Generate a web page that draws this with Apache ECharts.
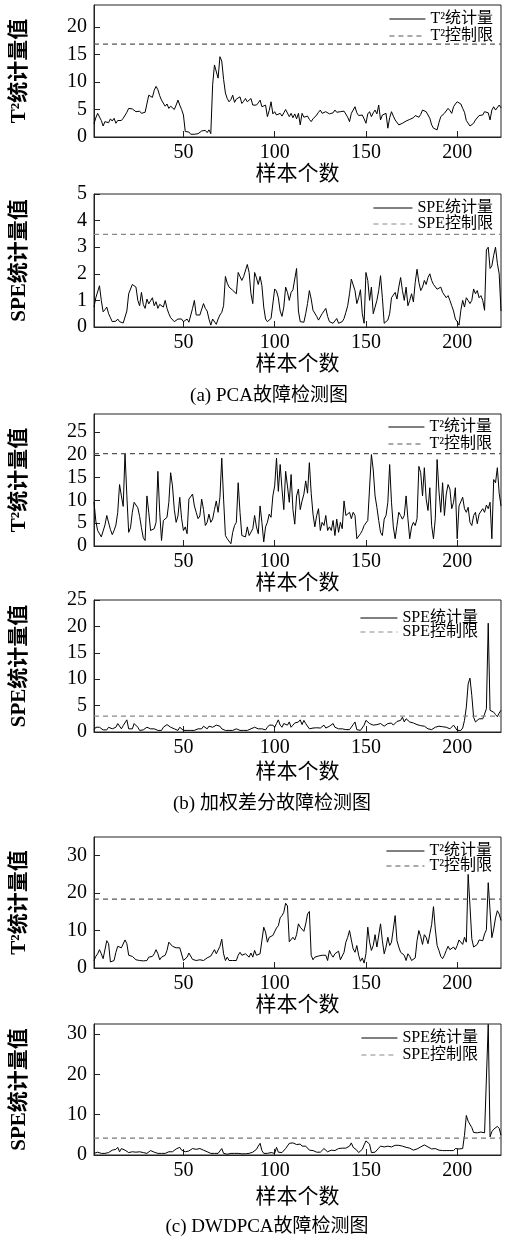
<!DOCTYPE html>
<html>
<head>
<meta charset="utf-8">
<script src="https://cdn.jsdelivr.net/npm/echarts@6/dist/echarts.min.js"></script>
<style>
html, body { margin: 0; padding: 0; background: #fff; }
#main { width: 514px; height: 1241px; }
</style>
</head>
<body>
<div id="main"></div>
<script>
// 样本统计量数据（按样本序号 1..224）
var t2PCA = [
  2.4, 3.5, 4.3, 4.0, 3.0, 2.0, 2.8, 3.1, 2.6, 3.3,
  2.9, 3.4, 2.5, 3.0, 2.7, 3.0, 3.4, 3.7, 4.5, 5.2,
  5.0, 5.1, 4.8, 4.6, 4.9, 4.7, 4.3, 4.0, 4.5, 4.2,
  7.6, 7.9, 7.2, 8.5, 9.2, 8.6, 7.5, 6.7, 6.4, 5.6,
  6.0, 5.2, 5.6, 5.4, 5.0, 5.8, 6.7, 5.8, 5.0, 4.0,
  1.0, 0.7, 0.9, 0.5, 0.6, 0.5, 0.7, 0.6, 0.8, 1.1,
  0.9, 1.2, 0.8, 1.3, 0.6, 9.5, 13.1, 12.8, 10.7, 14.6,
  13.8, 10.5, 8.0, 7.0, 6.4, 6.8, 7.6, 6.3, 6.9, 6.6,
  7.3, 6.1, 6.5, 7.0, 6.4, 6.7, 7.0, 5.8, 5.5, 5.8,
  6.2, 6.7, 5.5, 5.6, 5.8, 3.7, 4.8, 6.4, 4.2, 4.6,
  4.0, 3.9, 4.3, 3.8, 4.4, 5.0, 4.8, 3.7, 4.3, 3.5,
  4.2, 3.3, 4.3, 2.2, 4.3, 3.6, 3.4, 3.8, 3.2, 2.8,
  3.3, 3.4, 4.0, 4.5, 4.9, 4.3, 4.0, 4.6, 4.9, 4.2,
  4.0, 4.4, 4.9, 4.5, 4.2, 4.6, 4.3, 4.7, 4.9, 3.6,
  2.8, 4.3, 4.0, 5.5, 4.4, 3.9, 4.2, 4.0, 3.3, 2.5,
  4.2, 4.6, 3.7, 4.4, 4.9, 4.2, 5.8, 3.1, 4.0, 3.9,
  4.3, 1.6, 3.5, 4.6, 3.8, 3.1, 2.8, 2.2, 2.5, 2.5,
  2.8, 2.9, 3.1, 3.2, 3.3, 3.5, 3.9, 3.8, 3.6, 4.1,
  4.9, 5.2, 4.6, 4.0, 3.4, 2.2, 1.6, 1.5, 1.3, 2.6,
  3.7, 4.0, 4.3, 4.6, 5.2, 4.8, 4.3, 5.5, 6.0, 6.4,
  6.2, 6.0, 5.2, 4.5, 3.0, 2.7, 2.0, 1.9, 2.5, 3.1,
  3.3, 3.9, 4.2, 4.0, 4.6, 4.8, 4.4, 3.1, 4.9, 5.5,
  4.9, 5.2, 5.8, 5.3
];
var spePCA = [
  0.75, 1.1, 1.15, 1.55, 1.0, 0.57, 0.65, 0.75, 0.5, 0.35,
  0.2, 0.2, 0.22, 0.3, 0.2, 0.18, 0.15, 0.16, 0.6, 1.25,
  1.3, 1.6, 1.65, 1.5, 1.0, 0.8, 1.3, 0.85, 0.7, 1.05,
  0.87, 0.87, 1.1, 0.8, 0.95, 0.7, 0.85, 0.87, 0.75, 1.0,
  0.7, 0.5, 0.35, 0.3, 0.2, 0.2, 0.3, 0.25, 0.3, 0.2,
  0.25, 0.3, 0.18, 0.14, 0.7, 1.0, 0.45, 0.42, 0.45, 0.52,
  0.88, 0.7, 0.6, 0.3, 0.07, 0.3, 0.25, 0.1, 0.3, 0.45,
  0.55, 0.8, 1.9, 1.65, 1.5, 1.55, 1.38, 1.45, 1.25, 2.05,
  1.9, 1.75, 1.9, 1.9, 2.35, 2.05, 1.25, 0.88, 2.05, 1.85,
  1.6, 1.9, 1.55, 0.75, 0.3, 0.2, 0.14, 0.32, 0.38, 1.43,
  1.35, 1.1, 0.6, 0.4, 0.75, 1.5, 1.3, 1.0, 1.3, 1.4,
  1.4, 2.2, 0.6, 0.2, 0.14, 0.18, 0.5, 0.88, 1.37, 1.05,
  0.63, 0.57, 0.4, 0.26, 0.32, 0.5, 0.55, 0.7, 0.4, 0.2,
  0.26, 0.14, 0.2, 0.32, 0.14, 0.14, 0.2, 0.32, 0.55, 0.8,
  1.25, 1.8, 1.75, 1.37, 0.88, 1.1, 1.4, 0.5, 0.14, 2.05,
  1.75, 1.0, 1.5, 0.5, 0.75, 1.0, 1.37, 1.93, 1.1, 0.14,
  0.07, 0.26, 0.5, 1.1, 1.2, 1.3, 1.05, 1.5, 1.86, 1.37,
  1.0, 1.5, 0.8, 1.0, 1.25, 0.94, 1.68, 2.17, 1.68, 1.37,
  1.5, 1.75, 1.6, 1.86, 2.0, 1.75, 1.6, 1.55, 1.42, 1.42,
  1.5, 1.3, 1.37, 1.1, 1.18, 1.0, 0.8, 0.6, 0.3, 0.2,
  0.07, 0.63, 1.0, 0.75, 1.1, 1.0, 0.88, 1.0, 1.43, 1.25,
  1.37, 1.1, 1.18, 1.0, 0.63, 2.9, 3.0, 2.2, 2.3, 2.7,
  3.0, 2.4, 2.0, 0.6
];
var t2WD = [
  9.7, 5.5, 3.4, 3.0, 2.0, 2.3, 4.6, 6.7, 6.4, 3.6,
  2.5, 3.4, 4.6, 7.4, 13.5, 11.0, 8.7, 20.4, 11.0, 3.0,
  4.0, 7.4, 9.6, 9.3, 8.4, 6.5, 4.0, 1.8, 1.2, 11.0,
  7.4, 3.4, 3.0, 3.8, 5.2, 16.4, 7.4, 1.2, 5.6, 6.0,
  6.3, 9.6, 16.1, 13.2, 8.0, 5.2, 6.6, 10.7, 6.0, 3.4,
  4.2, 2.7, 10.3, 10.0, 11.4, 8.8, 7.4, 6.0, 6.6, 10.3,
  8.0, 4.5, 5.2, 7.0, 5.2, 5.9, 8.0, 9.9, 7.4, 10.7,
  19.3, 10.3, 2.3, 1.6, 1.5, 0.5, 3.0, 4.5, 5.2, 13.9,
  7.4, 2.3, 2.7, 2.0, 4.2, 2.3, 2.0, 3.8, 6.7, 4.2,
  2.7, 8.8, 5.2, 0.9, 4.2, 5.2, 7.0, 6.3, 11.0, 13.2,
  19.3, 12.0, 17.9, 12.5, 8.0, 16.4, 13.2, 9.6, 15.7, 8.0,
  4.8, 11.0, 12.5, 8.0, 9.9, 11.4, 14.3, 11.6, 18.3, 11.6,
  7.0, 4.2, 6.7, 8.2, 3.4, 5.2, 4.5, 6.7, 3.4, 4.2,
  3.4, 5.6, 2.3, 5.9, 3.0, 5.2, 3.8, 9.9, 6.7, 7.0,
  7.4, 6.0, 7.4, 6.7, 1.6, 2.0, 2.7, 3.4, 4.5, 4.8,
  5.6, 5.9, 20.1, 16.7, 11.0, 8.5, 5.6, 3.0, 2.3, 5.9,
  6.7, 9.6, 17.9, 9.6, 4.2, 1.6, 4.5, 7.4, 6.7, 5.9,
  6.7, 11.0, 6.0, 1.6, 4.2, 5.2, 4.5, 6.0, 17.5, 16.1,
  11.0, 17.2, 10.3, 7.8, 12.8, 4.5, 1.6, 6.0, 19.0, 12.1,
  7.4, 13.9, 6.7, 11.4, 13.5, 12.5, 8.2, 9.6, 12.8, 1.6,
  8.8, 8.8, 10.7, 8.2, 7.4, 8.5, 5.2, 4.5, 6.7, 7.4,
  4.9, 7.0, 7.4, 8.2, 7.4, 9.0, 8.2, 9.6, 1.6, 14.6,
  13.9, 17.2, 11.6, 8.8
];
var speWD = [
  0.4, 0.9, 0.6, 0.9, 0.8, 0.4, 0.6, 0.4, 0.9, 1.2,
  0.6, 0.6, 0.9, 1.6, 1.3, 0.6, 1.2, 0.9, 2.3, 0.6,
  0.3, 0.6, 1.6, 1.3, 0.9, 0.3, 0.3, 0.4, 0.6, 0.9,
  0.6, 0.6, 0.9, 0.6, 0.9, 0.3, 0.3, 0.3, 0.9, 1.2,
  1.4, 1.7, 0.9, 0.6, 0.6, 0.3, 0.3, 0.9, 0.6, 0.3,
  0.3, 0.3, 0.3, 0.3, 0.3, 0.3, 0.6, 0.6, 0.9, 0.6,
  1.1, 0.8, 0.6, 1.1, 0.9, 0.9, 1.1, 1.3, 1.4, 1.1,
  0.6, 0.3, 0.3, 0.3, 0.3, 0.6, 0.3, 0.3, 0.6, 0.6,
  0.3, 0.3, 0.3, 0.3, 0.3, 0.3, 0.6, 0.3, 0.9, 0.6,
  0.6, 0.9, 0.6, 0.9, 0.4, 0.9, 1.3, 1.6, 1.3, 0.9,
  1.6, 2.3, 1.3, 0.9, 1.6, 1.3, 1.3, 1.9, 0.9, 1.3,
  1.7, 1.4, 1.9, 2.3, 1.4, 2.2, 1.6, 1.3, 0.6, 0.9,
  0.75, 0.6, 0.8, 0.9, 0.75, 0.9, 1.3, 0.75, 0.6, 1.1,
  1.3, 1.6, 0.9, 0.6, 0.6, 0.6, 0.6, 0.6, 0.45, 0.3,
  0.45, 0.6, 1.4, 1.9, 0.45, 0.3, 0.3, 0.6, 1.3, 2.2,
  1.9, 1.6, 1.4, 1.3, 1.3, 1.4, 1.6, 1.6, 1.3, 1.1,
  1.4, 1.6, 1.75, 1.7, 1.3, 1.6, 2.0, 2.1, 2.2, 2.8,
  1.9, 2.5, 2.2, 1.9, 2.2, 1.7, 1.75, 1.4, 1.1, 1.2,
  0.9, 1.1, 0.8, 0.6, 0.3, 0.45, 0.7, 0.9, 0.9, 1.1,
  0.9, 1.0, 1.1, 0.9, 1.2, 0.6, 0.7, 1.3, 1.1, 0.3,
  0.3, 0.3, 0.75, 2.2, 4.7, 9.1, 10.2, 6.9, 2.8, 1.9,
  2.1, 2.5, 2.7, 2.5, 3.4, 4.4, 20.6, 4.1, 3.75, 3.75,
  3.3, 2.9, 3.6, 4.1
];
var t2DWD = [
  2.0, 3.1, 3.8, 4.9, 3.8, 2.5, 2.0, 7.3, 6.5, 1.6,
  1.3, 2.0, 4.2, 5.8, 6.3, 5.4, 5.8, 7.5, 6.5, 3.4,
  3.1, 3.1, 2.7, 2.2, 2.4, 2.0, 1.7, 1.9, 1.6, 2.0,
  2.9, 2.6, 3.1, 3.8, 4.9, 3.8, 2.2, 2.9, 2.9, 3.4,
  4.7, 6.9, 6.4, 5.8, 5.3, 5.4, 4.9, 5.4, 5.8, 2.0,
  1.6, 2.9, 4.0, 4.5, 2.3, 2.5, 2.0, 2.3, 2.2, 2.7,
  2.0, 2.5, 2.7, 2.2, 3.2, 3.4, 4.9, 3.8, 4.0, 5.8,
  7.7, 3.8, 2.0, 2.9, 2.0, 2.5, 2.0, 1.7, 2.0, 3.4,
  4.2, 3.4, 2.9, 3.8, 3.4, 2.9, 4.0, 2.9, 4.7, 3.4,
  3.1, 3.8, 3.4, 10.9, 9.6, 6.9, 8.2, 7.8, 8.7, 9.1,
  10.7, 11.3, 13.4, 14.0, 14.9, 17.3, 16.6, 7.0, 7.5, 8.2,
  7.5, 8.9, 11.8, 10.9, 11.3, 9.8, 11.8, 14.4, 15.1, 3.4,
  2.2, 2.9, 2.7, 3.2, 2.9, 3.4, 3.8, 3.4, 2.0, 4.7,
  3.6, 2.9, 3.8, 3.4, 4.5, 2.2, 2.7, 4.2, 6.9, 8.2,
  10.0, 7.5, 5.1, 4.2, 6.0, 3.4, 1.8, 2.7, 1.3, 3.8,
  10.9, 6.9, 4.7, 6.0, 8.9, 5.6, 5.1, 11.8, 7.3, 3.8,
  5.6, 8.2, 6.0, 6.9, 10.4, 14.0, 7.3, 5.6, 4.2, 4.0,
  3.4, 2.0, 3.8, 3.1, 2.0, 2.0, 2.7, 7.3, 10.0, 8.4,
  6.3, 8.9, 8.2, 6.5, 9.1, 11.6, 16.4, 10.4, 6.0, 4.7,
  3.1, 2.5, 3.4, 4.7, 5.8, 4.9, 4.5, 5.6, 4.9, 6.0,
  7.5, 7.8, 6.3, 8.2, 6.9, 25.0, 16.6, 7.8, 5.6, 6.0,
  6.3, 7.5, 8.0, 7.3, 9.1, 10.2, 22.8, 15.3, 8.1, 10.4,
  13.4, 15.3, 14.4, 12.7
];
var speDWD = [
  0.4, 0.6, 0.7, 0.6, 0.4, 0.4, 0.4, 0.8, 0.6, 0.6,
  1.2, 1.6, 1.4, 1.9, 0.8, 1.6, 2.0, 1.2, 0.8, 0.6,
  0.6, 0.8, 1.1, 0.7, 1.1, 0.8, 0.7, 0.6, 0.4, 0.4,
  0.8, 1.1, 1.4, 0.7, 0.4, 0.4, 0.4, 0.4, 0.4, 0.4,
  0.6, 0.8, 1.2, 0.8, 1.0, 1.5, 1.6, 1.9, 1.2, 1.4,
  0.8, 1.2, 1.0, 0.8, 1.6, 1.9, 1.4, 1.5, 1.6, 2.0,
  1.2, 1.6, 0.8, 0.6, 0.4, 0.4, 0.4, 0.6, 0.4, 0.6,
  1.6, 0.4, 0.2, 0.2, 0.3, 0.4, 0.3, 0.4, 0.3, 0.4,
  0.4, 0.3, 0.4, 0.3, 0.4, 0.4, 0.4, 0.7, 0.9, 1.4,
  2.2, 2.9, 1.1, 0.4, 0.4, 0.4, 0.4, 0.6, 0.8, 0.4,
  1.9, 0.7, 0.4, 0.6, 0.8, 1.6, 2.0, 2.9, 3.3, 3.0,
  3.2, 2.6, 2.5, 2.7, 2.2, 2.4, 2.2, 1.9, 1.2, 1.0,
  1.1, 1.0, 0.7, 0.6, 0.7, 0.9, 1.6, 1.4, 0.8, 1.0,
  1.2, 1.1, 1.1, 1.5, 1.6, 1.4, 1.7, 2.0, 1.7, 1.6,
  2.2, 3.0, 1.9, 1.5, 1.2, 0.6, 0.5, 1.4, 2.5, 3.5,
  3.5, 2.7, 0.6, 0.5, 0.7, 1.1, 1.7, 2.2, 2.0, 2.0,
  1.6, 2.2, 2.0, 2.0, 1.9, 2.4, 2.4, 2.4, 2.8, 2.2,
  2.5, 1.9, 2.0, 1.7, 2.0, 1.2, 1.2, 1.5, 1.6, 2.0,
  2.1, 2.5, 2.5, 2.0, 1.6, 1.5, 1.6, 1.6, 1.3, 1.2,
  1.2, 1.1, 1.1, 1.1, 1.2, 1.1, 1.1, 1.1, 1.6, 1.9,
  1.5, 1.3, 1.6, 4.9, 9.8, 8.4, 8.1, 6.8, 5.6, 5.3,
  5.5, 5.5, 5.7, 5.5, 5.5, 5.7, 32.4, 4.5, 5.8, 6.4,
  6.6, 7.1, 6.6, 4.9
];

// 控制限
var t2LimitPCA = 16.9;
var speLimitPCA = 3.48;
var t2LimitWD = 20.3;
var speLimitWD = 3.0;
var t2LimitDWD = 18.4;
var speLimitDWD = 4.2;

var xTicks = [50, 100, 150, 200];
var captions = ['(a) PCA故障检测图', '(b) 加权差分故障检测图', '(c) DWDPCA故障检测图'];

var myChart = echarts.init(document.getElementById('main'));

var serif = "'Liberation Serif', 'Noto Sans CJK SC', serif";
var xMin = 1, xMax = 224;

var toPoints = function (arr) {
    var res = [];
    for (var i = 0; i < arr.length; i++) {
        res.push([i + 1, arr[i]]);
    }
    return res;
};

// 每个子图: 位置、坐标范围、刻度、名称
var panels = [
    { top: 5,    height: 132, data: t2PCA,  limit: t2LimitPCA,  ymax: 24,   yTicks: [0, 5, 10, 15, 20],      stat: 'T²统计量',  lim: 'T²控制限',  yName: 'T²统计量值',  limColor: '#555', lgTop: 11,   lgRight: 21, lgW: 36, lgGap: 1, nameGap: 26 },
    { top: 194,  height: 133, data: spePCA, limit: speLimitPCA, ymax: 5,    yTicks: [0, 1, 2, 3, 4, 5],      stat: 'SPE统计量', lim: 'SPE控制限', yName: 'SPE统计量值', limColor: '#888', lgTop: 200,  lgRight: 21, lgW: 39, lgGap: 0, nameGap: 27 },
    { top: 414,  height: 132, data: t2WD,   limit: t2LimitWD,   ymax: 29,   yTicks: [0, 5, 10, 15, 20, 25],  stat: 'T²统计量',  lim: 'T²控制限',  yName: 'T²统计量值',  limColor: '#555', lgTop: 419,  lgRight: 22, lgW: 36, lgGap: 1, nameGap: 27 },
    { top: 600,  height: 132, data: speWD,  limit: speLimitWD,  ymax: 25,   yTicks: [0, 5, 10, 15, 20, 25],  stat: 'SPE统计量', lim: 'SPE控制限', yName: 'SPE统计量值', limColor: '#888', lgTop: 610,  lgRight: 36, lgW: 37, lgGap: -2, nameGap: 30 },
    { top: 837,  height: 131, data: t2DWD,  limit: t2LimitDWD,  ymax: 35,   yTicks: [0, 10, 20, 30],         stat: 'T²统计量',  lim: 'T²控制限',  yName: 'T²统计量值',  limColor: '#555', lgTop: 843,  lgRight: 22, lgW: 38, lgGap: -1, nameGap: 27 },
    { top: 1024, height: 131, data: speDWD, limit: speLimitDWD, ymax: 32.5, yTicks: [0, 10, 20, 30],         stat: 'SPE统计量', lim: 'SPE控制限', yName: 'SPE统计量值', limColor: '#777', lgTop: 1030, lgRight: 36, lgW: 36, lgGap: 1, nameGap: 32 }
];

var grids = [], xAxes = [], yAxes = [], series = [], legends = [];

panels.forEach(function (p, k) {
    grids.push({
        left: 94, width: 407, top: p.top, height: p.height,
        show: true, borderColor: '#222', borderWidth: 1, backgroundColor: 'transparent'
    });
    xAxes.push({
        type: 'value', gridIndex: k, min: xMin, max: xMax,
        name: '样本个数', nameLocation: 'middle', nameGap: p.nameGap,
        nameTextStyle: { fontFamily: serif, fontSize: 21, color: '#000' },
        axisLine: { show: true, lineStyle: { color: '#222', width: 1 } },
        axisTick: { show: true, inside: true, length: 6, customValues: xTicks, lineStyle: { color: '#222' } },
        axisLabel: { customValues: xTicks, fontFamily: serif, fontSize: 20, color: '#000', margin: 6 },
        splitLine: { show: false }
    });
    yAxes.push({
        type: 'value', gridIndex: k, min: 0, max: p.ymax,
        name: p.yName, nameLocation: 'middle', nameGap: 64, nameRotate: 90,
        nameTextStyle: { fontFamily: serif, fontSize: 21, fontWeight: 'bold', color: '#000' },
        axisLine: { show: true, lineStyle: { color: '#222', width: 1 } },
        axisTick: { show: true, inside: true, length: 6, customValues: p.yTicks, lineStyle: { color: '#222' } },
        axisLabel: { customValues: p.yTicks, fontFamily: serif, fontSize: 20, color: '#000', margin: 7 },
        splitLine: { show: false }
    });
    series.push({
        name: p.stat, type: 'line', xAxisIndex: k, yAxisIndex: k,
        data: toPoints(p.data), symbol: 'none',
        lineStyle: { color: '#000', width: 1 }, itemStyle: { color: '#000' }
    });
    series.push({
        name: p.lim, type: 'line', xAxisIndex: k, yAxisIndex: k,
        data: [[xMin, p.limit], [xMax, p.limit]], symbol: 'none',
        lineStyle: { color: p.limColor, width: 1.2, type: [5, 4] }, itemStyle: { color: p.limColor }
    });
    legends.push({
        orient: 'vertical', top: p.lgTop, right: p.lgRight, padding: 0,
        itemWidth: p.lgW, itemHeight: 10, itemGap: p.lgGap,
        itemStyle: { opacity: 0 },
        lineStyle: { width: 1 },
        textStyle: { fontFamily: serif, fontSize: 16, color: '#000', lineHeight: 16 },
        data: [p.stat, p.lim]
    });
});

option = {
    animation: false,
    backgroundColor: '#fff',
    grid: grids,
    xAxis: xAxes,
    yAxis: yAxes,
    legend: legends,
    series: series,
    graphic: [
        { type: 'text', x: 269, y: 396, style: { text: captions[0], font: "19px 'Liberation Serif', 'Noto Sans CJK SC'", fill: '#000', align: 'center', verticalAlign: 'middle' } },
        { type: 'text', x: 272, y: 804, style: { text: captions[1], font: "19px 'Liberation Serif', 'Noto Sans CJK SC'", fill: '#000', align: 'center', verticalAlign: 'middle' } },
        { type: 'text', x: 267, y: 1227, style: { text: captions[2], font: "19px 'Liberation Serif', 'Noto Sans CJK SC'", fill: '#000', align: 'center', verticalAlign: 'middle' } }
    ]
};

myChart.setOption(option);
</script>
</body>
</html>
